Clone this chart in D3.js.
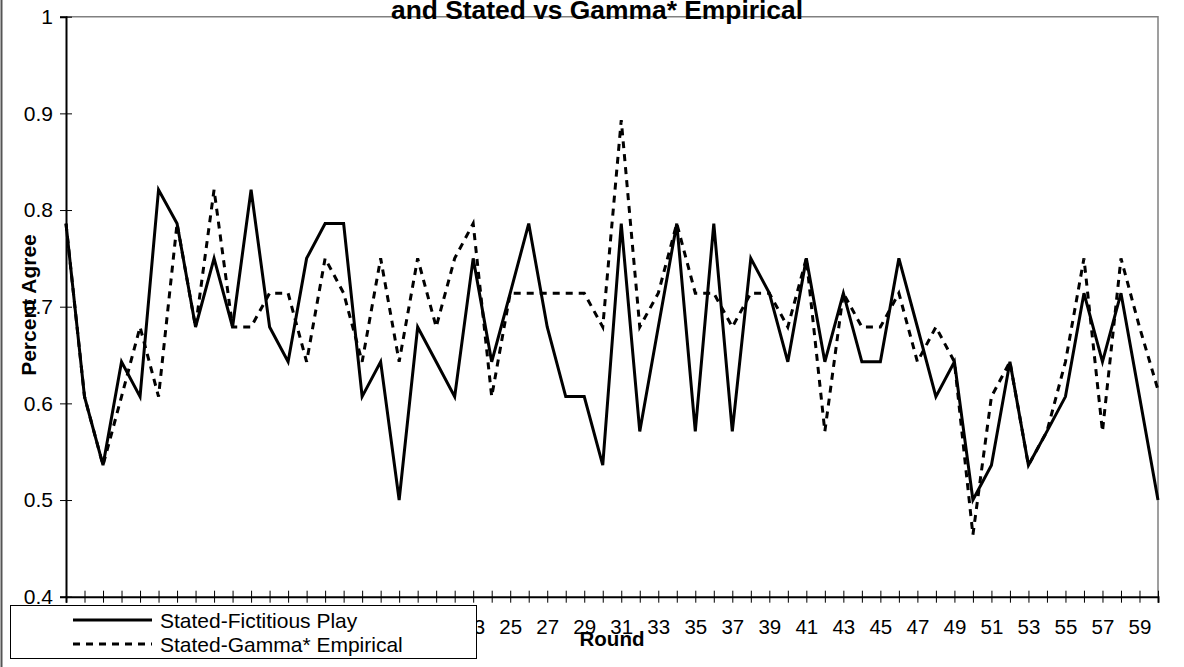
<!DOCTYPE html>
<html>
<head>
<meta charset="utf-8">
<script src="https://cdn.jsdelivr.net/npm/d3@7"></script>
<style>
  html, body { margin: 0; padding: 0; background: #fff; }
  svg { display: block; font-family: Arial, "Liberation Sans", sans-serif; }
</style>
</head>
<body>
<svg id="chart" width="1184" height="667"></svg>
<script>
const rounds = d3.range(1, 61);

const fictitiousPlay = [
  0.786, 0.607, 0.536, 0.643, 0.607, 0.821, 0.786, 0.679, 0.75, 0.679,
  0.821, 0.679, 0.643, 0.75, 0.786, 0.786, 0.607, 0.643, 0.5, 0.679,
  0.643, 0.607, 0.75, 0.643, 0.714, 0.786, 0.679, 0.607, 0.607, 0.536,
  0.786, 0.571, 0.679, 0.786, 0.571, 0.786, 0.571, 0.75, 0.714, 0.643,
  0.75, 0.643, 0.714, 0.643, 0.643, 0.75, 0.679, 0.607, 0.643, 0.5,
  0.536, 0.643, 0.536, 0.571, 0.607, 0.714, 0.643, 0.714, 0.607, 0.5
];

const gammaEmpirical = [
  0.786, 0.607, 0.536, 0.607, 0.679, 0.607, 0.786, 0.679, 0.821, 0.679,
  0.679, 0.714, 0.714, 0.643, 0.75, 0.714, 0.643, 0.75, 0.643, 0.75,
  0.679, 0.75, 0.786, 0.607, 0.714, 0.714, 0.714, 0.714, 0.714, 0.679,
  0.893, 0.679, 0.714, 0.786, 0.714, 0.714, 0.679, 0.714, 0.714, 0.679,
  0.75, 0.571, 0.714, 0.679, 0.679, 0.714, 0.643, 0.679, 0.643, 0.464,
  0.607, 0.643, 0.536, 0.571, 0.643, 0.75, 0.571, 0.75, 0.679, 0.614
];

const yTicks = [0.4, 0.5, 0.6, 0.7, 0.8, 0.9, 1];

const seriesNames = ['Stated-Fictitious Play', 'Stated-Gamma* Empirical'];

const plot = { left: 66, right: 1158, top: 16.7, bottom: 596.7 };

const svg = d3.select('#chart');

// outer chart border (left edge only visible)
svg.append('line')
   .attr('x1', 1.5).attr('x2', 1.5)
   .attr('y1', 0).attr('y2', 667)
   .attr('stroke', '#555')
   .attr('stroke-width', 2);

const x = d3.scalePoint()
            .domain(rounds)
            .range([plot.left, plot.right]);

const y = d3.scaleLinear()
            .domain([0.4, 1])
            .range([plot.bottom, plot.top]);

// plot frame (top and right)
svg.append('path')
   .attr('d', `M${plot.left},${plot.top}H${plot.right}V${plot.bottom}`)
   .attr('fill', 'none')
   .attr('stroke', '#808080')
   .attr('stroke-width', 1.5);

// X axis
const xAxis = svg.append('g')
   .attr('transform', `translate(0,${plot.bottom})`)
   .call(d3.axisBottom(x)
           .tickSize(6)
           .tickFormat(d => d % 2 === 1 ? d : ''));
xAxis.select('.domain').attr('stroke', '#000').attr('stroke-width', 2);
xAxis.selectAll('.tick line').attr('y1', -6).attr('y2', 6).attr('stroke', '#000');
xAxis.selectAll('.tick text')
     .attr('y', 37).attr('dy', 0)
     .attr('font-size', 20.5)
     .attr('font-family', 'Arial, "Liberation Sans", sans-serif')
     .attr('fill', '#000');

// Y axis
const yAxis = svg.append('g')
   .attr('transform', `translate(${plot.left},0)`)
   .call(d3.axisLeft(y)
           .tickValues(yTicks)
           .tickSize(6)
           .tickPadding(7)
           .tickFormat(d => d === 1 ? '1' : d.toFixed(1)));
yAxis.select('.domain').attr('stroke', '#000').attr('stroke-width', 2);
yAxis.selectAll('.tick line').attr('x1', -6).attr('x2', 6).attr('stroke', '#000');
yAxis.selectAll('.tick text')
     .attr('font-size', 21)
     .attr('font-family', 'Arial, "Liberation Sans", sans-serif')
     .attr('fill', '#000');

// Lines
const line = d3.line()
               .x((d, i) => x(rounds[i]))
               .y(d => y(d));

svg.append('path')
   .datum(gammaEmpirical)
   .attr('d', line)
   .attr('fill', 'none')
   .attr('stroke', '#000')
   .attr('stroke-width', 3)
   .attr('stroke-dasharray', '7,6');

svg.append('path')
   .datum(fictitiousPlay)
   .attr('d', line)
   .attr('fill', 'none')
   .attr('stroke', '#000')
   .attr('stroke-width', 3)
   .attr('stroke-linejoin', 'miter');

// Title (second line, the first is cut off above the frame)
svg.append('text')
   .attr('x', 597)
   .attr('y', 18.5)
   .attr('text-anchor', 'middle')
   .attr('font-size', 25)
   .attr('font-weight', 'bold')
   .attr('textLength', 412)
   .attr('lengthAdjust', 'spacingAndGlyphs')
   .text('and Stated vs Gamma* Empirical');

// Axis titles
svg.append('text')
   .attr('transform', 'translate(36,305) rotate(-90)')
   .attr('text-anchor', 'middle')
   .attr('font-size', 21)
   .attr('font-weight', 'bold')
   .text('Percent Agree');

svg.append('text')
   .attr('x', 612)
   .attr('y', 646)
   .attr('text-anchor', 'middle')
   .attr('font-size', 20.5)
   .attr('font-weight', 'bold')
   .text('Round');

// Legend
const legend = svg.append('g');
legend.append('rect')
      .attr('x', 10.5).attr('y', 605.5)
      .attr('width', 466).attr('height', 53)
      .attr('fill', '#fff')
      .attr('stroke', '#000')
      .attr('stroke-width', 1);

seriesNames.forEach((name, i) => {
  const ly = 620 + i * 24;
  legend.append('line')
        .attr('x1', 73).attr('x2', 152)
        .attr('y1', ly).attr('y2', ly)
        .attr('stroke', '#000')
        .attr('stroke-width', 3)
        .attr('stroke-dasharray', i === 1 ? '7,6' : null);
  legend.append('text')
        .attr('x', 160)
        .attr('y', ly + 7.5)
        .attr('font-size', 21)
        .text(name);
});
</script>
</body>
</html>
